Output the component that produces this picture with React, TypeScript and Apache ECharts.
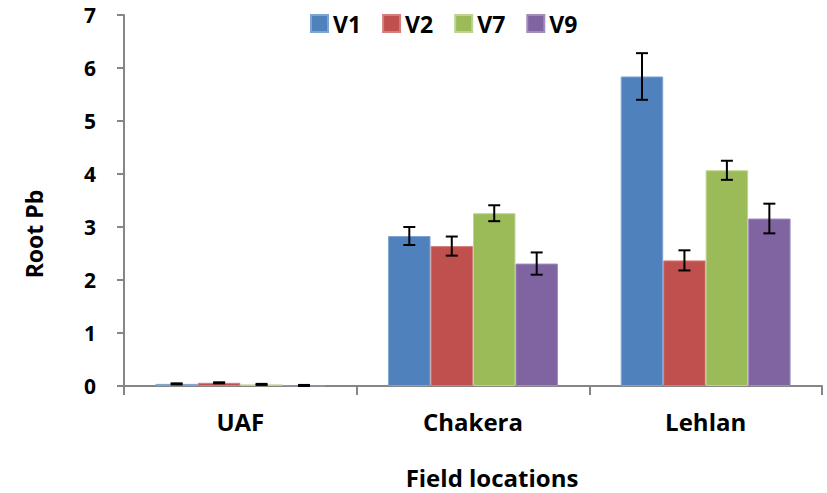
import React, { useEffect, useRef } from "react";
import * as echarts from "echarts";

const categories = ["UAF", "Chakera", "Lehlan"];
const seriesNames = ["V1", "V2", "V7", "V9"];
const v1 = [0.04, 2.83, 5.84];
const v2 = [0.06, 2.64, 2.37];
const v7 = [0.03, 3.26, 4.07];
const v9 = [0.01, 2.31, 3.16];
const v1Err = [0.01, 0.17, 0.44];
const v2Err = [0.01, 0.18, 0.19];
const v7Err = [0.01, 0.15, 0.18];
const v9Err = [0.01, 0.21, 0.28];
const yTicks = [0, 1, 2, 3, 4, 5, 6, 7];
const xTitle = "Field locations";
const yTitle = "Root Pb";

const colors = ["#4F81BD", "#C0504D", "#9BBB59", "#8064A2"];
const borders = ["#7FA3D3", "#D27F7D", "#BCD48E", "#A18BBF"];

const FONT = "'Open Sans', 'Noto Sans', sans-serif";
const CAT_GAP = 0.27;

export default function App() {
  const ref = useRef<HTMLDivElement>(null);
  useEffect(() => {
    if (!ref.current) return;
    const chart = echarts.init(ref.current, undefined, { renderer: "svg" });
    const values = [v1, v2, v7, v9];
    const errs = [v1Err, v2Err, v7Err, v9Err];
    const barSeries = values.map((vals, i) => ({
      name: seriesNames[i],
      type: "bar",
      data: vals,
      barGap: "0%",
      barCategoryGap: CAT_GAP * 100 + "%",
      itemStyle: { color: colors[i], borderColor: borders[i], borderWidth: 1 },
    }));
    const errSeries = values.map((vals, i) => ({
      type: "custom",
      name: seriesNames[i] + "_err",
      z: 10,
      data: vals.map((v, j) => [j, v, errs[i][j]]),
      renderItem: (params: any, api: any) => {
        const x = api.value(0);
        const v = api.value(1);
        const e = api.value(2);
        const catW = api.size([1, 0])[0];
        const bw = (catW * (1 - CAT_GAP)) / 4;
        const off = (i - 1.5) * bw;
        const hi = api.coord([x, v + e]);
        const lo = api.coord([x, v - e]);
        const cx = hi[0] + off;
        const cap = 6;
        const style = { stroke: "#000", lineWidth: 2 };
        return {
          type: "group",
          children: [
            { type: "line", shape: { x1: cx, y1: hi[1], x2: cx, y2: lo[1] }, style },
            { type: "line", shape: { x1: cx - cap, y1: hi[1], x2: cx + cap, y2: hi[1] }, style },
            { type: "line", shape: { x1: cx - cap, y1: lo[1], x2: cx + cap, y2: lo[1] }, style },
          ],
        };
      },
    }));
    chart.setOption({
      animation: false,
      color: colors,
      textStyle: { fontFamily: FONT },
      legend: {
        data: seriesNames,
        left: 305,
        top: 7,
        itemWidth: 17,
        itemHeight: 17,
        itemGap: 21,
        icon: "rect",
        textStyle: { fontFamily: FONT, fontSize: 23, fontWeight: "bold", color: "#000" },
      },
      graphic: [
        {
          type: "text",
          x: 492,
          y: 477,
          style: {
            text: xTitle,
            align: "center",
            verticalAlign: "middle",
            fontFamily: FONT,
            fontSize: 24,
            fontWeight: "bold",
            fill: "#000",
          },
        },
        {
          type: "text",
          x: 34,
          y: 234,
          rotation: Math.PI / 2,
          style: {
            text: yTitle,
            align: "center",
            verticalAlign: "middle",
            fontFamily: FONT,
            fontSize: 23,
            fontWeight: "bold",
            fill: "#000",
          },
        },
      ],
      grid: { left: 124, right: 5, top: 15, bottom: 107, outerBoundsMode: "none" },
      xAxis: {
        type: "category",
        data: categories,
        axisLine: { lineStyle: { color: "#868686", width: 2 } },
        axisTick: { show: true, length: 9, alignWithLabel: false, lineStyle: { color: "#868686", width: 2 } },
        axisLabel: { fontFamily: FONT, fontSize: 24, fontWeight: "bold", color: "#000", margin: 23 },
      },
      yAxis: {
        type: "value",
        min: yTicks[0],
        max: yTicks[yTicks.length - 1],
        interval: 1,
        axisLine: { show: true, lineStyle: { color: "#868686", width: 2 } },
        axisTick: { show: true, length: 7, lineStyle: { color: "#868686", width: 2 } },
        splitLine: { show: false },
        axisLabel: { fontFamily: FONT, fontSize: 21, fontWeight: "bold", color: "#000", margin: 28 },
      },
      series: [...barSeries, ...errSeries],
    });
    return () => chart.dispose();
  }, []);
  return <div ref={ref} style={{ width: 827, height: 493, position: "absolute", left: 0, top: 0 }} />;
}
